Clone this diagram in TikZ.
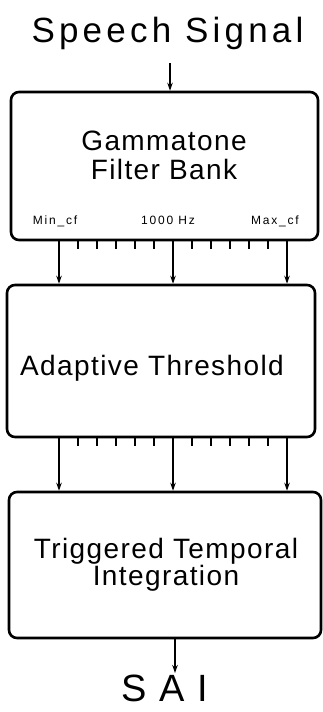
\documentclass[tikz,border=0pt]{standalone}
\usepackage{fontspec}
\setmainfont{Liberation Sans}[LetterSpace=5]
\newfontfamily\tickfont{Liberation Sans}[LetterSpace=15]
\newfontfamily\titlefont{Liberation Sans}[LetterSpace=12]
\usetikzlibrary{arrows.meta}

\tikzset{
  block/.style={draw, line width=2.6pt, rounded corners=8pt, inner sep=0pt},
  blocktext/.style={inner sep=0pt, align=center, font=\fontsize{28}{29}\selectfont},
  flow/.style={line width=1.2pt, -{Stealth[length=8pt,width=5.5pt]}},
  scaletick/.style={line width=1.8pt},
  ticklabel/.style={inner sep=0pt, anchor=base, font=\tickfont\fontsize{12}{14}\selectfont}
}

\begin{document}
\begin{tikzpicture}[x=1pt, y=-1pt]
	\useasboundingbox (0,0) rectangle (323,712);
	
	% Tín hiệu vào và ra
	\node[inner sep=0pt, font=\titlefont\fontsize{35}{40}\selectfont] (speech) at (167.5,33) {Speech Signal};
	\node[inner sep=0pt, font=\fontsize{38}{40}\selectfont] (sai) at (165,688.5) {S A I};
	
	% Ba khối xử lý
	\node[block, minimum width=307pt, minimum height=148pt] (gfb) at (164.5,166) {};
	\node[block, minimum width=308pt, minimum height=152pt] (ath) at (161,361) {};
	\node[block, minimum width=312pt, minimum height=146pt] (tti) at (165,565) {};
	
	% Chữ trong các khối
	\node[blocktext] (gfbtext) at (164,155) {Gammatone\\Filter Bank};
	\node[blocktext] (athtext) at (152,368) {Adaptive Threshold};
	\node[blocktext, font=\fontsize{28}{27}\selectfont] (ttitext) at (166,564.5) {Triggered Temporal\\Integration};
	
	% Nhãn tần số ở đáy khối lọc
	\node[ticklabel] (mincf) at (55,224) {Min\_cf};
	\node[ticklabel] (midcf) at (168,224) {1000 Hz};
	\node[ticklabel] (maxcf) at (275,224) {Max\_cf};
	
	% Mũi tên vào và ra
	\coordinate (sigin) at (170,63);
	\draw[flow] (sigin) -- (sigin |- gfb.north);
	\coordinate (sigout) at (175,673);
	\draw[flow] (tti.south -| sigout) -- (sigout);
	
	% Các kênh nối giữa các khối
	\foreach \x [count=\i] in {59,173,287} {
		\coordinate (tap\i) at (\x,0);
		\draw[flow] (gfb.south -| tap\i) -- (ath.north -| tap\i);
		\draw[flow] (ath.south -| tap\i) -- (tti.north -| tap\i);
	}
	
	% Vạch chia nhỏ dưới khối
	\foreach \k in {1,...,5,7,8,9,10,11} {
		\coordinate (mark) at (59+19*\k,0);
		\draw[scaletick] (gfb.south -| mark) -- ++(0,8);
		\draw[scaletick] (ath.south -| mark) -- ++(0,8);
	}
\end{tikzpicture}
\end{document}
